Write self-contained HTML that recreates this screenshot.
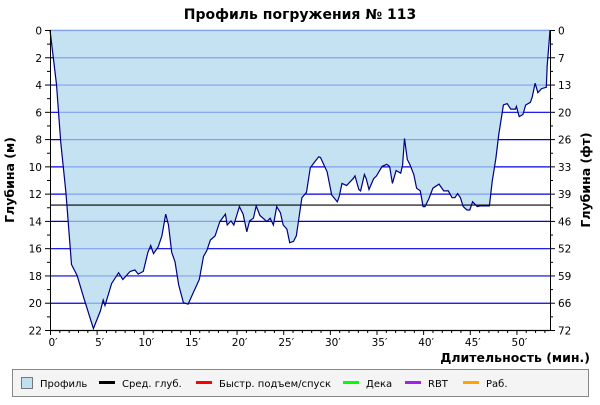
<!DOCTYPE html>
<html><head><meta charset="utf-8"><style>
body{margin:0;background:#fff;}
svg text{font-family:"DejaVu Sans","Liberation Sans",sans-serif;}
</style></head><body>
<svg width="600" height="400" viewBox="0 0 600 400">
<text x="300" y="19" text-anchor="middle" font-size="14" font-weight="bold">Профиль погружения № 113</text>
<g id="grid"></g>
<path id="fill" fill="#b0d8ee" fill-opacity="0.75"></path>
<line id="avg" stroke="#000" stroke-width="1.2"></line>
<path id="line" fill="none" stroke="#000080" stroke-width="1.2"></path>
<g id="axes"></g>
<text transform="translate(14,180) rotate(-90)" text-anchor="middle" font-size="12.5" font-weight="bold">Глубина (м)</text>
<text transform="translate(590,180) rotate(-90)" text-anchor="middle" font-size="12.5" font-weight="bold">Глубина (фт)</text>
<text x="590" y="362" text-anchor="end" font-size="12.5" font-weight="bold">Длительность (мин.)</text>
<g>
<rect x="12.5" y="369.5" width="576" height="27" fill="#f4f4f4" stroke="#888"/>
<rect x="21.5" y="377.5" width="11" height="11" fill="#c0e0f0" stroke="#777"/>
<text x="40" y="387" font-size="10">Профиль</text>
<rect x="99" y="381" width="16" height="3" fill="#000"/>
<text x="122" y="387" font-size="10">Сред. глуб.</text>
<rect x="196" y="381" width="16" height="3" fill="#f00"/>
<text x="219" y="387" font-size="10">Быстр. подъем/спуск</text>
<rect x="343" y="381" width="16" height="3" fill="#0f0"/>
<text x="366" y="387" font-size="10">Дека</text>
<rect x="405" y="381" width="16" height="3" fill="#a020f0"/>
<text x="428" y="387" font-size="10">RBT</text>
<rect x="463" y="381" width="16" height="3" fill="#ffa500"/>
<text x="486" y="387" font-size="10">Раб.</text>
</g>
</svg>
<script>
const times=[0,0.7,1.15,1.7,2.3,2.9,3.6,4.65,5.4,5.7,5.9,6.6,7.35,7.8,8.6,9.1,9.45,10.0,10.5,10.8,11.1,11.6,12.0,12.4,12.7,13.05,13.4,13.8,14.3,14.8,15.4,16.0,16.45,16.8,17.2,17.7,18.2,18.8,19.0,19.4,19.7,20.3,20.7,21.1,21.4,21.8,22.1,22.5,23.25,23.6,23.95,24.3,24.7,25.0,25.4,25.7,26.1,26.4,27.0,27.5,27.9,28.4,28.8,29.0,29.7,30.2,30.8,31.0,31.3,31.8,32.5,32.7,33.1,33.3,33.7,33.9,34.2,34.7,35.0,35.6,36.1,36.4,36.7,37.1,37.6,37.8,38.0,38.3,38.6,39.0,39.3,39.7,40.0,40.2,40.6,41.05,41.7,42.2,42.7,43.1,43.4,43.7,44.0,44.3,44.7,45.0,45.3,45.8,46.1,46.85,47.1,47.4,47.8,48.1,48.6,49.0,49.4,49.9,50.0,50.3,50.7,51.0,51.5,51.7,52.0,52.3,52.7,53.2,53.3,53.55,53.6];
const depths=[0,4.0,8.2,11.9,17.2,18,19.6,21.9,20.6,19.8,20.2,18.6,17.8,18.3,17.7,17.6,17.9,17.7,16.3,15.8,16.4,15.9,15.1,13.5,14.3,16.3,17,18.7,20.0,20.1,19.2,18.3,16.6,16.2,15.4,15.1,14.05,13.5,14.3,14.0,14.3,12.95,13.5,14.8,14.0,13.8,12.9,13.6,14.05,13.8,14.3,12.95,13.4,14.3,14.6,15.6,15.5,15.1,12.3,11.9,10.1,9.65,9.3,9.35,10.4,12.1,12.6,12.2,11.25,11.4,10.9,10.7,11.7,11.8,10.6,10.9,11.7,10.9,10.7,10.0,9.85,10.0,11.25,10.3,10.5,9.9,7.95,9.5,9.9,10.6,11.6,11.8,12.95,12.95,12.4,11.6,11.3,11.8,11.8,12.3,12.3,12.0,12.3,12.95,13.2,13.2,12.6,12.95,12.9,12.9,12.9,11.1,9.4,7.7,5.5,5.4,5.8,5.8,5.6,6.35,6.2,5.5,5.3,4.9,3.9,4.6,4.3,4.2,2.6,0.5,0];
const avgDepth=12.8;
const leftTicks=[0,2,4,6,8,10,12,14,16,18,20,22];
const rightTicks=["0","7","13","20","26","33","39","46","52","59","66","72"];
const xLabels=[0,5,10,15,20,25,30,35,40,45,50];
const X0=50,X1=550,Y0=30,Y1=330,TMAX=53.6,DMAX=22;
const sx=t=>X0+t*(X1-X0)/TMAX, sy=d=>Y0+d*(Y1-Y0)/DMAX;
const NS="http://www.w3.org/2000/svg";
function mk(tag,attrs,parent,txt){const e=document.createElementNS(NS,tag);for(const k in attrs)e.setAttribute(k,attrs[k]);if(txt!==undefined)e.textContent=txt;parent.appendChild(e);return e;}
const grid=document.getElementById('grid'),axes=document.getElementById('axes');
leftTicks.forEach((d,i)=>{
 const y=sy(d)+0.5;
 const g=mk('line',{x1:X0,x2:X1,y1:y,y2:y,stroke:'#0000e6','stroke-width':1.2},grid);
 
 
 const tl=mk('text',{x:X0-8,y:y+4,'text-anchor':'end','font-size':10.5},axes,String(d));
 
 
 const tr=mk('text',{x:X1+8,y:y+4,'font-size':10.5},axes,rightTicks[i]);
 
 
 mk('line',{x1:X0-5,x2:X0,y1:y,y2:y,stroke:'#000'},axes);
 mk('line',{x1:X1,x2:X1+5,y1:y,y2:y,stroke:'#000'},axes);
 if(i<leftTicks.length-1){const ym=sy(d+1)+0.5;mk('line',{x1:X0-3,x2:X0,y1:ym,y2:ym,stroke:'#000'},axes);mk('line',{x1:X1,x2:X1+3,y1:ym,y2:ym,stroke:'#000'},axes);}
});
for(let t=0;t<=53;t++){const x=sx(t)+0.5;mk('line',{x1:x,x2:x,y1:Y1,y2:Y1+(t%5==0?5:3),stroke:'#000'},axes);}
xLabels.forEach(t=>{const e=mk('text',{x:sx(t)+3,y:Y1+16,'text-anchor':'middle','font-size':10.5},axes,t+'′');
 
 });
mk('line',{x1:X0+0.5,x2:X0+0.5,y1:Y0,y2:Y1,stroke:'#000'},axes);
mk('line',{x1:X1+0.5,x2:X1+0.5,y1:Y0,y2:Y1,stroke:'#000'},axes);
mk('line',{x1:X0,x2:X1,y1:Y1+0.5,y2:Y1+0.5,stroke:'#000'},axes);
let p=times.map((t,i)=>(i?'L':'M')+sx(times[i]).toFixed(1)+','+sy(depths[i]).toFixed(1)).join(' ');
document.getElementById('line').setAttribute('d',p);
document.getElementById('fill').setAttribute('d',p+' L'+sx(times[times.length-1])+','+Y0+' L'+X0+','+Y0+' Z');
const a=document.getElementById('avg');a.setAttribute('x1',X0);a.setAttribute('x2',X1);a.setAttribute('y1',sy(avgDepth)+0.5);a.setAttribute('y2',sy(avgDepth)+0.5);
</script>
</body></html>
